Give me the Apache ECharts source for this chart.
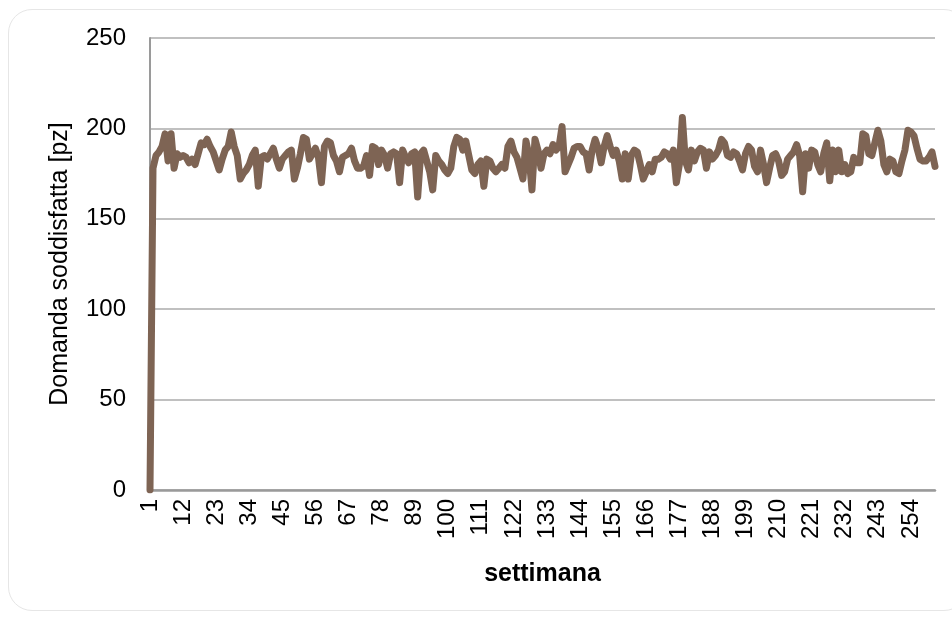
<!DOCTYPE html>
<html>
<head>
<meta charset="utf-8">
<script src="https://cdn.jsdelivr.net/npm/echarts@6/dist/echarts.min.js"></script>
<style>
html,body{margin:0;padding:0;background:#fff;}
#frame{position:absolute;left:8px;top:9px;width:960px;height:602px;border:1.5px solid #e6e6e6;border-radius:24px;box-sizing:border-box;}
#chart{position:absolute;left:0;top:0;width:952px;height:619px;}
</style>
</head>
<body>
<div id="frame"></div>
<div id="chart"></div>
<script>
const weeksCount = 262;
const weeks = [];
for (let i = 1; i <= weeksCount; i++) weeks.push(String(i));

const domandaSoddisfatta = [
  0,178,185,187,190,197,182,197,178,186,
  184,185,184,181,183,180,186,192,191,194,
  190,187,182,177,183,188,190,198,190,185,
  172,175,177,180,185,188,168,184,185,183,
  186,189,183,178,183,185,187,188,172,178,
  186,195,194,183,186,189,184,170,190,193,
  192,185,182,176,184,185,186,189,182,178,
  178,179,185,174,190,189,180,188,185,178,
  186,187,186,170,188,184,181,186,187,162,
  186,188,182,176,166,185,182,180,177,175,
  178,190,195,194,188,193,185,177,175,180,
  182,168,183,182,178,176,178,180,178,190,
  193,187,184,178,172,193,185,166,194,188,
  178,186,188,186,191,188,190,201,176,180,
  184,189,190,190,187,186,177,188,194,189,
  181,190,196,190,185,188,182,172,186,172,
  185,188,187,180,172,176,180,176,183,183,
  184,187,186,183,188,170,180,206,182,177,
  188,182,187,189,188,178,187,183,185,188,
  194,192,185,184,187,186,182,177,186,190,
  188,179,176,188,180,170,178,185,186,182,
  174,176,183,185,187,191,185,165,186,178,
  188,187,180,176,186,192,171,188,176,188,
  176,180,175,176,184,181,181,197,196,186,
  185,192,199,193,180,176,183,182,176,175,
  182,188,199,198,196,189,183,182,182,184,
  187,179
];

const yTicks = { min: 0, max: 250, interval: 50 };

const chart = echarts.init(document.getElementById('chart'), null, { renderer: 'canvas' });
const font = 'Liberation Sans, Arial, sans-serif';
chart.setOption({
  animation: false,
  grid: { left: 150, top: 38, right: 17, bottom: 129, containLabel: false },
  xAxis: {
    type: 'category',
    data: weeks,
    boundaryGap: false,
    name: 'settimana',
    nameLocation: 'middle',
    nameGap: 72,
    nameTextStyle: { fontFamily: font, fontSize: 25, fontWeight: 'bold', color: '#000' },
    axisLine: { show: true, lineStyle: { color: '#9a9a9a', width: 2.5 } },
    axisTick: { show: false },
    axisLabel: { interval: 10, rotate: 90, fontFamily: font, fontSize: 24, color: '#000', margin: 9 },
    splitLine: { show: false }
  },
  yAxis: {
    type: 'value',
    min: yTicks.min, max: yTicks.max, interval: yTicks.interval,
    name: 'Domanda soddisfatta [pz]',
    nameLocation: 'middle',
    nameGap: 77,
    nameTextStyle: { fontFamily: font, fontSize: 25, color: '#000' },
    axisLine: { show: true, lineStyle: { color: '#9a9a9a', width: 2 } },
    axisTick: { show: false },
    axisLabel: { fontFamily: font, fontSize: 24, color: '#000', margin: 24 },
    splitLine: { show: true, lineStyle: { color: '#c0c0c0', width: 2 } }
  },
  series: [{
    type: 'line',
    data: domandaSoddisfatta,
    showSymbol: false,
    smooth: false,
    lineStyle: { color: '#7e6454', width: 7, join: 'round', cap: 'round' },
    itemStyle: { color: '#7e6454' }
  }]
});
</script>
</body>
</html>
